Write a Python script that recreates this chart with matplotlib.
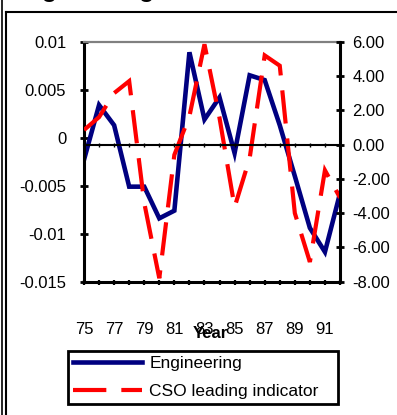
"""Engineering vs CSO leading indicator, two y axes."""

import numpy as _np
import matplotlib
matplotlib.use('Agg')
import matplotlib.pyplot as _plt
from matplotlib.lines import Line2D as _Line2D

_plt.rcParams['font.family'] = ['Liberation Sans', 'DejaVu Sans']
_plt.rcParams['axes.unicode_minus'] = False

# data
years = ['75', '76', '77', '78', '79', '80', '81', '82', '83',
         '84', '85', '86', '87', '88', '89', '90', '91', '92']
engineering = [-0.0023, 0.0034, 0.0013, -0.0051, -0.0051, -0.0084,
               -0.0076, 0.0089, 0.0019, 0.0042, -0.0016, 0.0065,
               0.0060, 0.0013, -0.0040, -0.0094, -0.0119, -0.0058]
cso = [0.85, 1.6, 3.0, 3.7, -3.4, -7.8, -0.6, 1.65, 5.85, 1.55,
       -3.65, -0.8, 5.2, 4.6, -4.0, -6.85, -1.5, -3.1]
left_ticks = [-0.015, -0.01, -0.005, 0.0, 0.005, 0.01]
left_labels = ['-0.015', '-0.01', '-0.005', '0', '0.005', '0.01']
right_ticks = [-8, -6, -4, -2, 0, 2, 4, 6]

W, H = 397.0, 415.0


def fx(px):
    return px / W


def fy(py):
    return 1.0 - py / H


fig = _plt.figure(figsize=(3.97, 4.15), dpi=100)
ax = fig.add_axes([fx(84), fy(281.7), fx(340) - fx(84), fy(41.7) - fy(281.7)])
ax2 = ax.twinx()

x = _np.arange(len(years))
l1, = ax.plot(x, engineering, color='#000080', lw=3.3,
              solid_joinstyle='miter')
l2, = ax2.plot(x, cso, color='#ff0000', lw=3.0, dashes=(8, 3.6),
               dash_capstyle='butt', dash_joinstyle='miter')

ax.set_xlim(0, len(years) - 1)
ax.set_ylim(-0.015, 0.01)
ax2.set_ylim(-8, 6)

# left axis
ax.set_yticks(left_ticks)
ax.set_yticklabels(left_labels)
ax.tick_params(axis='y', direction='inout', length=5.4, width=2.0,
               pad=10, labelsize=12)
# category axis at the bottom
ax.set_xticks(x)
ax.set_xticklabels([y if i % 2 == 0 else '' for i, y in enumerate(years)])
ax.tick_params(axis='x', direction='inout', length=3.6, width=1.6,
               pad=27, labelsize=12)

# right axis
ax2.set_yticks(right_ticks)
ax2.set_yticklabels(['{:.2f}'.format(v) for v in right_ticks])
ax2.tick_params(axis='y', direction='inout', length=5.8, width=2.0,
                pad=6, labelsize=12)

# zero line of the right axis with small ticks
ax2.xaxis.set_visible(True)
ax2.spines['bottom'].set_position(('data', 0))
ax2.spines['bottom'].set_linewidth(1.5)
ax2.tick_params(axis='x', direction='inout', length=2.5, width=1.0,
                labelbottom=False, bottom=True, top=False)

for s in ('left', 'bottom'):
    ax.spines[s].set_linewidth(2.2)
ax.spines['right'].set_visible(False)
ax.spines['top'].set_color('#808080')
ax.spines['top'].set_linewidth(1.6)
ax2.spines['left'].set_visible(False)
ax2.spines['top'].set_visible(False)
ax2.spines['right'].set_linewidth(2.2)

fig.text(fx(210), fy(333), 'Year', ha='center', va='center',
         fontsize=12, fontweight='bold')

# cut-off title at the very top
fig.text(fx(10), fy(-3.5), 'Engineering', ha='left', va='baseline',
         fontsize=18, fontweight='bold')

leg = fig.legend([l1, l2], ['Engineering', 'CSO leading indicator'],
                 loc='upper left',
                 bbox_to_anchor=(fx(67.7), fy(407.3), fx(338.3) - fx(67.7),
                                 fy(351) - fy(407.3)),
                 mode='expand', fancybox=False, framealpha=1,
                 edgecolor='black', handlelength=4.0, handletextpad=0.4,
                 borderpad=0.3, labelspacing=0.7, borderaxespad=0,
                 fontsize=12.5)
leg.get_frame().set_linewidth(2.0)

# frame lines around the chart object
fig.add_artist(_Line2D([fx(1.7), fx(1.7)], [0, 1], transform=fig.transFigure,
                       color='black', lw=1.2))
fig.add_artist(_Line2D([fx(6), fx(6)], [0, fy(11.7)], transform=fig.transFigure,
                       color='black', lw=1.5))
fig.add_artist(_Line2D([fx(6), 1], [fy(11.7), fy(11.7)],
                       transform=fig.transFigure, color='black', lw=1.5))

fig.savefig('out.png', dpi=100)
